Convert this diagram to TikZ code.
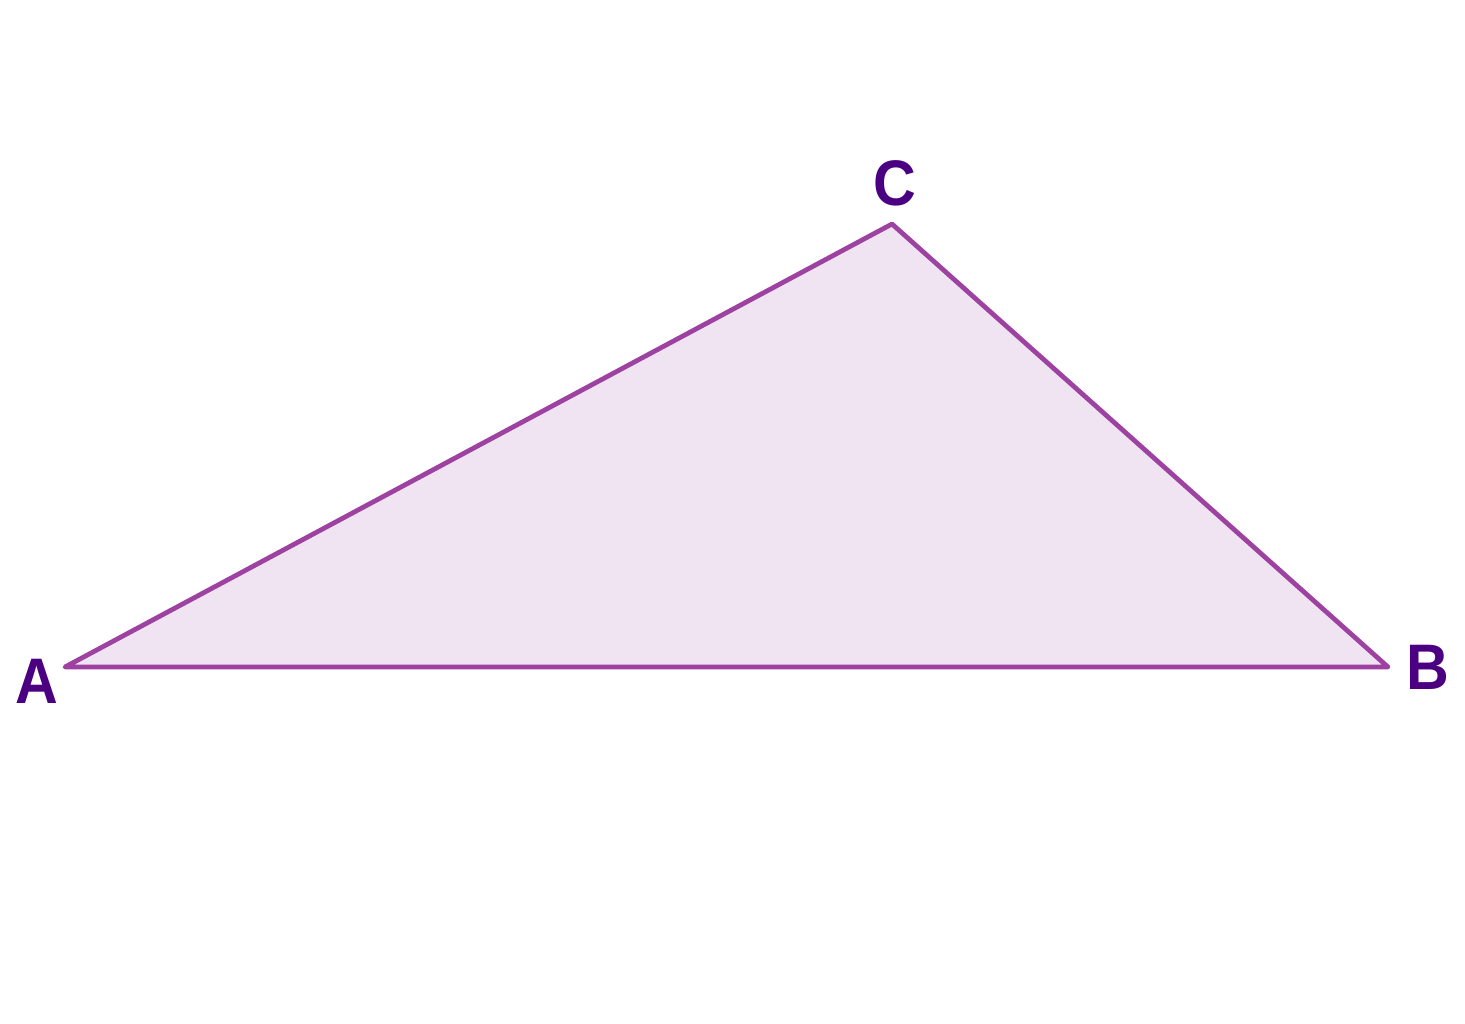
\documentclass[tikz,border=0pt]{standalone}
\usepackage{fontspec}
\setmainfont{Liberation Sans}
\definecolor{edge}{HTML}{9E42A2}
\definecolor{fillc}{HTML}{F0E4F2}
\definecolor{lab}{HTML}{4B0082}
\tikzset{
  vlabel/.style={text=lab, font=\fontsize{18.3}{20}\selectfont\bfseries, inner sep=0pt, anchor=center, xscale=0.92},
  tri/.style={draw=edge, fill=fillc, line width=1.35pt, line join=round, line cap=round}
}
\begin{document}
\begin{tikzpicture}[x=0.01cm,y=-0.01cm]
\useasboundingbox (0,0) rectangle (1465,1024);
\coordinate (A) at (65,667);
\coordinate (B) at (1388,667);
\coordinate (C) at (892,224);
\draw[tri] (A) -- (B) -- (C) -- cycle;
\node[vlabel] (lA) at (37,681) {A};
\node[vlabel] (lB) at (1428,667) {B};
\node[vlabel] (lC) at (895,183) {C};
\end{tikzpicture}
\end{document}
